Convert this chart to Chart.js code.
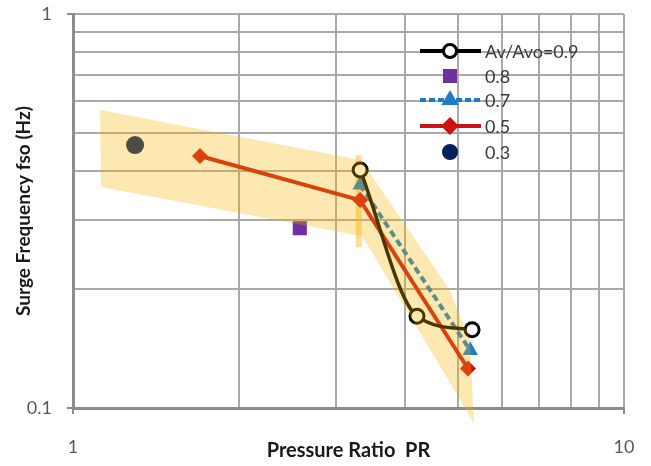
<!DOCTYPE html>
<html>
<head>
<meta charset="utf-8">
<script src="https://cdn.jsdelivr.net/npm/chart.js@4/dist/chart.umd.min.js"></script>
<style>
  html, body { margin: 0; padding: 0; background: #ffffff; }
  canvas { display: block; }
</style>
</head>
<body>
<canvas id="chart" width="651" height="466"></canvas>
<script>
// Surge frequency vs. pressure ratio for several valve-area ratios
const seriesLabels = ['Av/Avo=0.9', '0.8', '0.7', '0.5', '0.3'];

const pr09 = [3.32, 4.21, 5.30];
const fso09 = [0.402, 0.171, 0.158];

const pr08 = [2.58];
const fso08 = [0.286];

const pr07 = [3.32, 5.26];
const fso07 = [0.368, 0.140];

const pr05 = [1.70, 3.32, 5.21];
const fso05 = [0.436, 0.337, 0.126];

const pr03 = [1.296];
const fso03 = [0.465];

// shaded scatter band (polygon outline)
const bandPR = [1.12, 3.33, 4.83, 5.25, 5.343, 3.35, 1.124];
const bandFso = [0.571, 0.426, 0.199, 0.149, 0.0916, 0.273, 0.364];

// short vertical spread at PR = 3.3
const spreadPR = [3.30, 3.30];
const spreadFso = [0.438, 0.256];

// grid positions and the ones that carry a printed label
const xGridValues = [1, 2, 3, 4, 5, 6, 7, 8, 9, 10];
const yGridValues = [0.1, 0.2, 0.3, 0.4, 0.5, 0.6, 0.7, 0.8, 0.9, 1];
const xTickLabels = [1, 10];
const yTickLabels = [0.1, 1];

const pts = (xs, ys) => xs.map((x, i) => ({ x: x, y: ys[i] }));

const colors = {
  s09: '#000000',
  s08: '#7030a0',
  s07: '#1f7cc4',
  s05: '#cc1212',
  s03: '#002060',
  band: 'rgba(248, 178, 0, 0.3)',
  spread: 'rgba(248, 190, 40, 0.5)',
  grid: '#a9a9a9',
  axis: '#8c8c8c',
  text: '#595959',
  title: '#1a1a1a'
};

const datasets = [
  {
    label: seriesLabels[0], data: pts(pr09, fso09), showLine: true,
    borderColor: colors.s09, borderWidth: 3.5, cubicInterpolationMode: 'monotone',
    pointStyle: 'circle', pointRadius: 7, pointBorderWidth: 3,
    pointBackgroundColor: '#ffffff', pointBorderColor: colors.s09
  },
  {
    label: seriesLabels[1], data: pts(pr08, fso08), showLine: false,
    pointStyle: 'rect', pointRadius: 10, pointBorderWidth: 0,
    pointBackgroundColor: colors.s08, pointBorderColor: colors.s08
  },
  {
    label: seriesLabels[2], data: pts(pr07, fso07), showLine: true,
    borderColor: colors.s07, borderWidth: 4, borderDash: [7, 4],
    pointStyle: 'triangle', pointRadius: 9, pointBorderWidth: 0,
    pointBackgroundColor: colors.s07, pointBorderColor: colors.s07
  },
  {
    label: seriesLabels[3], data: pts(pr05, fso05), showLine: true,
    borderColor: colors.s05, borderWidth: 4,
    pointStyle: 'rectRot', pointRadius: 8, pointBorderWidth: 0,
    pointBackgroundColor: colors.s05, pointBorderColor: colors.s05
  },
  {
    label: seriesLabels[4], data: pts(pr03, fso03), showLine: false,
    pointStyle: 'circle', pointRadius: 9, pointBorderWidth: 0,
    pointBackgroundColor: colors.s03, pointBorderColor: colors.s03
  },
  {
    label: 'spread', data: pts(spreadPR, spreadFso), showLine: true,
    borderColor: colors.spread, borderWidth: 6, pointRadius: 0
  },
  {
    label: 'band', data: pts(bandPR, bandFso), showLine: false,
    pointRadius: 0, borderWidth: 0, clip: false
  }
];
const BAND_INDEX = 6;

const isLabelled = (v, list) => list.some(t => Math.abs(t - v) < 1e-9);

// fills the band polygon through the points laid out by the scales
const bandPlugin = {
  id: 'bandPlugin',
  afterDatasetsDraw(chart) {
    const meta = chart.getDatasetMeta(BAND_INDEX);
    const ctx = chart.ctx;
    ctx.save();
    ctx.beginPath();
    meta.data.forEach((p, i) => i ? ctx.lineTo(p.x, p.y) : ctx.moveTo(p.x, p.y));
    ctx.closePath();
    ctx.fillStyle = colors.band;
    ctx.fill();
    ctx.restore();
  }
};

function marker(ctx, style, x, y, r, fill, stroke, bw) {
  ctx.beginPath();
  if (style === 'circle') {
    ctx.arc(x, y, r, 0, Math.PI * 2);
  } else if (style === 'rect') {
    ctx.rect(x - r, y - r, 2 * r, 2 * r);
  } else if (style === 'triangle') {
    ctx.moveTo(x, y - r);
    ctx.lineTo(x + r * 0.866, y + r * 0.5);
    ctx.lineTo(x - r * 0.866, y + r * 0.5);
    ctx.closePath();
  } else if (style === 'diamond') {
    ctx.moveTo(x - r, y); ctx.lineTo(x, y - r); ctx.lineTo(x + r, y); ctx.lineTo(x, y + r);
    ctx.closePath();
  }
  ctx.fillStyle = fill;
  ctx.fill();
  if (bw) { ctx.lineWidth = bw; ctx.strokeStyle = stroke; ctx.stroke(); }
}

// legend inside the plot, upper right
const legendPlugin = {
  id: 'insideLegend',
  afterDraw(chart) {
    const ctx = chart.ctx;
    const rows = [
      { y: 51, line: true, dash: [], color: colors.s09, style: 'circle', r: 6.5, fill: '#ffffff', bw: 3 },
      { y: 76, line: false, color: colors.s08, style: 'rect', r: 7, fill: colors.s08, bw: 0 },
      { y: 100, line: true, dash: [6, 3], color: colors.s07, style: 'triangle', r: 10, fill: colors.s07, bw: 0 },
      { y: 126, line: true, dash: [], color: colors.s05, style: 'diamond', r: 9, fill: colors.s05, bw: 0 },
      { y: 152, line: false, color: colors.s03, style: 'circle', r: 8, fill: colors.s03, bw: 0 }
    ];
    ctx.save();
    rows.forEach((row, i) => {
      if (row.line) {
        ctx.beginPath();
        ctx.setLineDash(row.dash);
        ctx.lineWidth = 4;
        ctx.strokeStyle = row.color;
        ctx.moveTo(420, row.y);
        ctx.lineTo(481, row.y);
        ctx.stroke();
        ctx.setLineDash([]);
      }
      marker(ctx, row.style, 450, row.y, row.r, row.fill, row.color, row.bw);
      ctx.fillStyle = '#3a3a3a';
      ctx.font = '18px Lato';
      ctx.textAlign = 'left';
      ctx.textBaseline = 'middle';
      ctx.fillText(seriesLabels[i], 485, row.y + 1);
    });
    ctx.restore();
  }
};

const gridTick = (list) => (c) => (c.tick && isLabelled(c.tick.value, list)) ? colors.axis : 'rgba(0,0,0,0)';
const setTicks = (values) => (s) => { s.ticks = values.map(v => ({ value: v })); };

new Chart(document.getElementById('chart'), {
  type: 'scatter',
  data: { datasets: datasets },
  plugins: [bandPlugin, legendPlugin],
  options: {
    responsive: false,
    animation: false,
    devicePixelRatio: 1,
    layout: { padding: { left: 0, top: 14, right: 27, bottom: 0 } },
    plugins: {
      legend: { display: false },
      tooltip: { enabled: false }
    },
    scales: {
      x: {
        type: 'logarithmic',
        min: 1, max: 10,
        afterBuildTicks: setTicks(xGridValues),
        afterFit: (s) => { s.height = 58; s.paddingLeft = 0; s.paddingRight = 0; },
        grid: { color: colors.grid, lineWidth: 2, drawTicks: true, tickLength: 6, tickWidth: 2, tickColor: gridTick(xTickLabels) },
        border: { color: colors.axis, width: 3 },
        ticks: {
          autoSkip: false, maxRotation: 0, padding: 22,
          color: colors.text, font: { family: 'Lato', size: 18 },
          callback: (v) => isLabelled(v, xTickLabels) ? String(v) : ''
        },
        title: {
          display: true, text: 'Pressure Ratio  PR', color: colors.title,
          font: { family: 'Lato', size: 20, weight: 'bold' },
          padding: { top: 0, bottom: 3 }
        }
      },
      y: {
        type: 'logarithmic',
        min: 0.1, max: 1,
        afterBuildTicks: setTicks(yGridValues),
        afterFit: (s) => { s.width = 73; s.paddingTop = 0; s.paddingBottom = 0; },
        grid: { color: colors.grid, lineWidth: 2, drawTicks: true, tickLength: 6, tickWidth: 2, tickColor: gridTick(yTickLabels) },
        border: { color: colors.axis, width: 3 },
        ticks: {
          autoSkip: false, padding: 15,
          color: colors.text, font: { family: 'Lato', size: 18 },
          callback: (v) => isLabelled(v, yTickLabels) ? String(v) : ''
        },
        title: {
          display: true, text: 'Surge Frequency fso (Hz)', color: colors.title,
          font: { family: 'Lato', size: 19, weight: 'bold' },
          padding: { top: 12, bottom: 0 }
        }
      }
    }
  }
});
</script>
</body>
</html>
